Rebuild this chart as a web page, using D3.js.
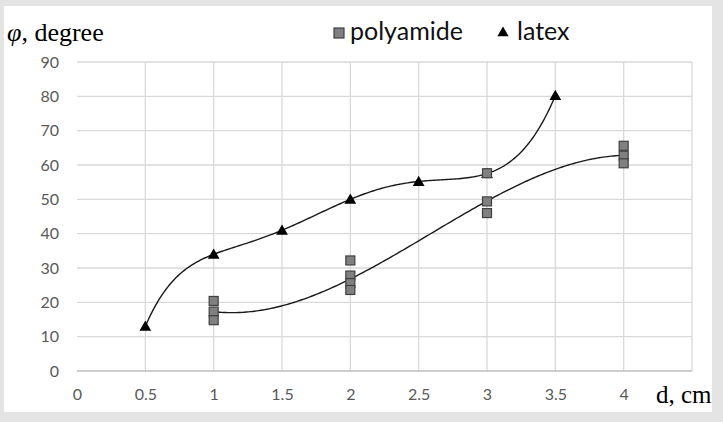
<!DOCTYPE html>
<html><head><meta charset="utf-8">
<script src="https://cdn.jsdelivr.net/npm/d3@7"></script>
<style>
html,body{margin:0;padding:0;background:#e4e4e4;}
svg{display:block;}
</style></head>
<body>
<svg id="chart" width="723" height="422"></svg>
<script>
// ---- data ----
const xTicks = [0, 0.5, 1, 1.5, 2, 2.5, 3, 3.5, 4];
const xTickLabels = ["0", "0.5", "1", "1.5", "2", "2.5", "3", "3.5", "4"];
const yTicks = [0, 10, 20, 30, 40, 50, 60, 70, 80, 90];
const polyamideX = [1, 1, 1, 2, 2, 2, 2, 3, 3, 3, 4, 4, 4];
const polyamideY = [20.4, 17.3, 14.8, 32.2, 27.8, 25.6, 23.6, 57.6, 49.4, 46.0, 65.6, 62.7, 60.5];
const polyamideTrendX = [1, 2, 3, 4];
const polyamideTrendY = [17.3, 26.8, 49.5, 62.8];
const latexX = [0.5, 1, 1.5, 2, 2.5, 3, 3.5];
const latexY = [13, 34, 41, 50, 55.2, 57.5, 80.2];
const seriesNames = ["polyamide", "latex"];

// ---- layout ----
const svg = d3.select("#chart");
svg.append("rect").attr("x", 4).attr("y", 6).attr("width", 708).attr("height", 406).attr("fill", "#ffffff");

const x = d3.scaleLinear().domain([0, 4.5]).range([77, 692]);
const y = d3.scaleLinear().domain([0, 90]).range([371, 62]);

// gridlines
const grid = svg.append("g");
grid.selectAll("line.h").data(yTicks.filter(d => d > 0)).join("line")
  .attr("x1", x(0)).attr("x2", x(4.5))
  .attr("y1", d => y(d)).attr("y2", d => y(d))
  .attr("stroke", "#d9d9d9").attr("stroke-width", 1.3);
grid.selectAll("line.v").data(xTicks.filter(d => d > 0).concat([4.5])).join("line")
  .attr("x1", d => x(d)).attr("x2", d => x(d))
  .attr("y1", y(0)).attr("y2", y(90))
  .attr("stroke", "#d9d9d9").attr("stroke-width", 1.3);
// bottom axis line
svg.append("line").attr("x1", x(0)).attr("x2", x(4.5)).attr("y1", y(0)).attr("y2", y(0))
  .attr("stroke", "#bfbfbf").attr("stroke-width", 1.5);

// axes labels via d3 axes
const xAxis = d3.axisBottom(x).tickValues(xTicks).tickFormat((d, i) => xTickLabels[i]).tickSize(0).tickPadding(18);
const gx = svg.append("g").attr("transform", `translate(0,${y(0)})`).call(xAxis);
gx.select(".domain").remove();
gx.selectAll("text").attr("font-family", "Lato, 'Open Sans', sans-serif").attr("font-size", 16).attr("fill", "#595959");

const yAxis = d3.axisLeft(y).tickValues(yTicks).tickSize(0).tickPadding(18);
const gy = svg.append("g").attr("transform", `translate(${x(0)},0)`).call(yAxis);
gy.select(".domain").remove();
gy.selectAll("text").attr("font-family", "Lato, 'Open Sans', sans-serif").attr("font-size", 16).attr("fill", "#595959");

// ---- trend curves (interpolating polynomials) ----
function lagrange(xs, ys) {
  return t => {
    let s = 0;
    for (let i = 0; i < xs.length; i++) {
      let l = 1;
      for (let j = 0; j < xs.length; j++) if (j !== i) l *= (t - xs[j]) / (xs[i] - xs[j]);
      s += ys[i] * l;
    }
    return s;
  };
}
function curvePts(xs, ys) {
  const f = lagrange(xs, ys);
  const lo = d3.min(xs), hi = d3.max(xs);
  return d3.range(0, 201).map(k => { const t = lo + (hi - lo) * k / 200; return [t, f(t)]; });
}
const line = d3.line().x(d => x(d[0])).y(d => y(d[1]));
svg.append("path").attr("d", line(curvePts(latexX, latexY)))
  .attr("fill", "none").attr("stroke", "#1a1a1a").attr("stroke-width", 1.4);
svg.append("path").attr("d", line(curvePts(polyamideTrendX, polyamideTrendY)))
  .attr("fill", "none").attr("stroke", "#1a1a1a").attr("stroke-width", 1.4);

// ---- markers ----
const tri = d3.symbol().type(d3.symbolTriangle).size(60);
svg.append("g").selectAll("path").data(latexX.map((d, i) => [d, latexY[i]])).join("path")
  .attr("d", tri).attr("transform", d => `translate(${x(d[0])},${y(d[1]) + 1})`)
  .attr("fill", "#000");
svg.append("g").selectAll("rect").data(polyamideX.map((d, i) => [d, polyamideY[i]])).join("rect")
  .attr("x", d => x(d[0]) - 4.5).attr("y", d => y(d[1]) - 4.5)
  .attr("width", 9).attr("height", 9)
  .attr("fill", "#808080").attr("stroke", "#404040").attr("stroke-width", 1.2);

// ---- titles ----
const ttl = svg.append("text").attr("x", 7).attr("y", 41)
  .attr("font-family", "'Liberation Serif', 'DejaVu Serif', serif").attr("font-size", 26).attr("fill", "#000");
ttl.append("tspan").attr("font-style", "italic").text("φ");
ttl.append("tspan").text(", degree");
svg.append("text").attr("x", 656).attr("y", 403)
  .attr("font-family", "'Liberation Serif', 'DejaVu Serif', serif").attr("font-size", 25).attr("fill", "#000")
  .text("d, cm");

// ---- legend ----
const lg = svg.append("g");
lg.append("rect").attr("x", 334).attr("y", 28).attr("width", 10).attr("height", 10)
  .attr("fill", "#808080").attr("stroke", "#404040").attr("stroke-width", 1.2);
lg.append("text").attr("x", 350).attr("y", 40)
  .attr("font-family", "Lato, 'Open Sans', sans-serif").attr("font-size", 25).attr("fill", "#111")
  .text(seriesNames[0]);
lg.append("path").attr("d", d3.symbol().type(d3.symbolTriangle).size(55))
  .attr("transform", "translate(503,33)").attr("fill", "#000");
lg.append("text").attr("x", 517).attr("y", 40)
  .attr("font-family", "Lato, 'Open Sans', sans-serif").attr("font-size", 25).attr("fill", "#111")
  .text(seriesNames[1]);
</script>
</body></html>
